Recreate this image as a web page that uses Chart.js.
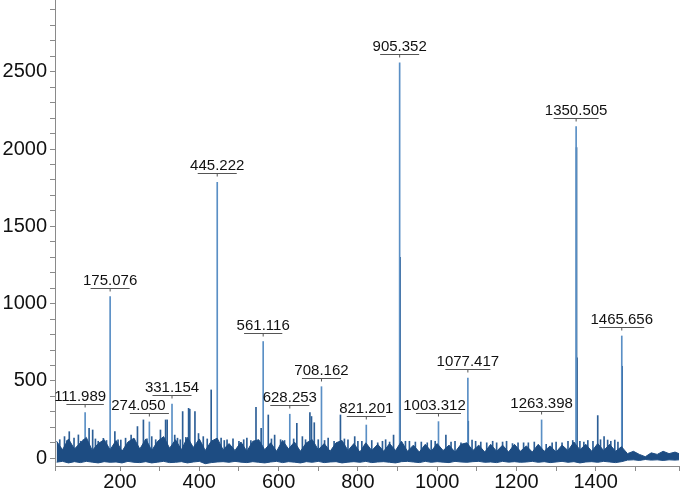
<!DOCTYPE html>
<html>
<head>
<meta charset="utf-8">
<script src="https://cdn.jsdelivr.net/npm/chart.js@4.4.1/dist/chart.umd.min.js"></script>
<style>
  html, body { margin: 0; padding: 0; background: #fff; }
</style>
</head>
<body>
<canvas id="myChart" width="680" height="491"></canvas>
<script>
// noise band of the spectrum: upper and lower edge, m/z every 15
var noiseMz = [40, 55, 70, 85, 100, 115, 130, 145, 160, 175,
    190, 205, 220, 235, 250, 265, 280, 295, 310, 325,
    340, 355, 370, 385, 400, 415, 430, 445, 460, 475,
    490, 505, 520, 535, 550, 565, 580, 595, 610, 625,
    640, 655, 670, 685, 700, 715, 730, 745, 760, 775,
    790, 805, 820, 835, 850, 865, 880, 895, 910, 925,
    940, 955, 970, 985, 1000, 1015, 1030, 1045, 1060, 1075,
    1090, 1105, 1120, 1135, 1150, 1165, 1180, 1195, 1210, 1225,
    1240, 1255, 1270, 1285, 1300, 1315, 1330, 1345, 1360, 1375,
    1390, 1405, 1420, 1435, 1450, 1465, 1480, 1495, 1510, 1525,
    1540, 1555, 1570, 1585, 1600, 1610]
var noiseTop = [110, 55, 125, 60, 100, 135, 50, 95, 120, 55,
    115, 45, 105, 130, 60, 125, 50, 110, 140, 65,
    120, 55, 135, 70, 125, 50, 110, 130, 55, 95,
    50, 105, 45, 110, 120, 55, 100, 45, 115, 60,
    105, 45, 100, 120, 55, 95, 45, 100, 115, 50,
    95, 40, 100, 50, 90, 45, 95, 50, 110, 45,
    85, 40, 90, 45, 95, 50, 85, 40, 90, 100,
    50, 85, 40, 90, 45, 85, 40, 90, 45, 80,
    40, 90, 45, 80, 40, 85, 50, 105, 55, 90,
    45, 95, 50, 90, 45, 75, 30, 45, 25, 10,
    35, 25, 45, 30, 40, 30]
var noiseBottom = [-25, -20, -30, -22, -28, -20, -25, -30, -22, -26,
    -24, -30, -20, -26, -28, -22, -30, -25, -20, -28,
    -26, -22, -30, -24, -20, -35, -28, -24, -22, -26,
    -20, -25, -28, -22, -26, -30, -24, -20, -28, -22,
    -25, -30, -22, -26, -20, -28, -24, -22, -30, -25,
    -22, -26, -20, -28, -24, -22, -26, -30, -22, -20,
    -24, -28, -20, -26, -22, -25, -28, -20, -24, -26,
    -22, -20, -26, -24, -28, -20, -25, -22, -26, -24,
    -20, -26, -22, -28, -24, -20, -26, -22, -30, -24,
    -22, -26, -20, -24, -28, -22, -12, -10, -14, -8,
    -12, -10, -14, -10, -12, -10]

// smaller unlabelled spikes
var spikeMz = [48, 60, 66, 72, 84, 95, 101, 108, 122, 131, 138, 145, 158, 166, 187, 195, 202, 214, 228, 236,
    244, 259, 268, 280, 290, 302, 308, 315, 319, 338, 345, 352, 358, 366, 373, 376, 389, 398, 410, 420,
    430, 455, 463, 470, 485, 500, 512, 520, 530, 543, 556, 574, 582, 590, 605, 615, 638, 646, 660, 668,
    679, 683, 690, 700, 716, 725, 740, 756, 766, 775, 792, 800, 810, 835, 850, 862, 870, 880, 890, 920,
    930, 945, 960, 975, 985, 995, 1022, 1035, 1045, 1060, 1088, 1097, 1110, 1125, 1140, 1150, 1165, 1175, 1190, 1204,
    1218, 1230, 1245, 1275, 1290, 1300, 1315, 1330, 1342, 1360, 1370, 1380, 1393, 1405, 1412, 1421, 1430, 1438, 1448, 1456]
var spikeHeight = [120, 140, 115, 172, 130, 151, 110, 120, 194, 183, 125, 110, 129, 115, 172, 120, 118, 130, 150, 125,
    205, 248, 125, 140, 120, 183, 130, 248, 248, 150, 130, 120, 302, 135, 323, 317, 302, 160, 140, 125,
    442, 130, 115, 120, 125, 110, 120, 130, 115, 330, 194, 280, 125, 150, 120, 115, 125, 226, 140, 120,
    295, 270, 230, 120, 115, 130, 110, 280, 125, 120, 140, 110, 110, 115, 100, 110, 120, 105, 150, 110,
    110, 105, 105, 100, 115, 110, 150, 105, 110, 100, 118, 110, 105, 100, 110, 100, 105, 110, 95, 100,
    100, 100, 105, 90, 100, 105, 100, 110, 115, 110, 105, 115, 110, 276, 120, 140, 118, 110, 118, 105]

// labelled peaks
var peakMz = [111.989, 175.076, 274.050, 331.154, 445.222, 561.116, 628.253, 708.162,
    821.201, 905.352, 1003.312, 1077.417, 1263.398, 1350.505, 1465.656]
var peakHeight = [295, 1045, 235, 350, 1785, 755, 285, 463,
    215, 2557, 237, 518, 248, 2145, 791]

// isotope peaks next to the big ones
var isoMz = [906.35, 1078.42, 1351.5, 1352.5, 1466.66]
var isoHeight = [1300, 240, 2010, 650, 595]

var xLabels = [200, 400, 600, 800, 1000, 1200, 1400]
var yLabels = [0, 500, 1000, 1500, 2000, 2500]

function pts(xs, ys) {
    return xs.map(function (x, i) { return { x: x, y: ys[i] } })
}

var peakLabels = {
    id: 'peakLabels',
    afterDatasetsDraw: function (chart, args, opts) {
        var ctx = chart.ctx
        var xs = chart.scales.x
        var ys = chart.scales.y
        ctx.save()
        ctx.font = '15px "Liberation Sans", Arial, sans-serif'
        ctx.textAlign = 'center'
        ctx.textBaseline = 'alphabetic'
        ctx.lineWidth = 1
        ctx.strokeStyle = '#555'
        ctx.fillStyle = '#111'
        for (var i = 0; i < peakMz.length; i++) {
            var text = peakMz[i].toFixed(3)
            var x = xs.getPixelForValue(peakMz[i])
            var barY = Math.round(ys.getPixelForValue(peakHeight[i]) - 9) + 0.5
            var w = ctx.measureText(text).width * 0.72
            ctx.beginPath()
            ctx.moveTo(x - w / 2, barY)
            ctx.lineTo(x + w / 2, barY)
            ctx.moveTo(x, barY)
            ctx.lineTo(x, barY + 3)
            ctx.stroke()
            ctx.fillText(text, x + (opts.shift[text] || 0), barY - 4)
        }
        ctx.restore()
    }
}

Chart.defaults.font.family = '"Liberation Sans", Arial, sans-serif'

var ctx = document.getElementById('myChart').getContext('2d')
var myChart = new Chart(ctx, {
    type: 'bar',
    data: {
        datasets: [{
                type: 'line',
                data: pts(noiseMz, noiseTop),
                borderColor: '#1d4c82',
                backgroundColor: '#1d4c82',
                borderWidth: 1,
                pointRadius: 0,
                fill: '+1',
                order: 0,
            },
            {
                type: 'line',
                data: pts(noiseMz, noiseBottom),
                borderColor: '#1d4c82',
                borderWidth: 1,
                pointRadius: 0,
                fill: false,
                order: 0,
            },
            {
                data: pts(spikeMz, spikeHeight),
                backgroundColor: '#2c5e96',
                barThickness: 1,
                grouped: false,
                order: 1,
            },
            {
                data: pts(peakMz, peakHeight),
                backgroundColor: '#5a8fc5',
                barThickness: 1,
                grouped: false,
                order: 1,
            },
            {
                data: pts(isoMz, isoHeight),
                backgroundColor: '#1f5088',
                barThickness: 1,
                grouped: false,
                order: 1,
            },
        ]
    },
    options: {
        responsive: false,
        animation: false,
        layout: { padding: { left: 0, right: 1, top: 0, bottom: 0 } },
        plugins: {
            legend: { display: false },
            tooltip: { enabled: false },
            peakLabels: { shift: { '111.989': -5, '274.050': -11, '1003.312': -4 } },
        },
        scales: {
            x: {
                type: 'linear',
                min: 36,
                max: 1610,
                offset: false,
                grid: { drawOnChartArea: false, offset: false, tickLength: 5, color: '#8a8a8a' },
                border: { color: '#8a8a8a' },
                ticks: {
                    stepSize: 100,
                    autoSkip: false,
                    maxRotation: 0,
                    padding: -1,
                    color: '#111',
                    font: { size: 20 },
                    callback: function (v) { return xLabels.indexOf(v) >= 0 ? String(v) : '' },
                },
                afterFit: function (s) { s.height = 25; s.paddingLeft = 0; s.paddingRight = 0 },
            },
            y: {
                min: -50,
                max: 2964,
                grid: { drawOnChartArea: false, tickLength: 5, color: '#8a8a8a' },
                border: { color: '#8a8a8a' },
                ticks: {
                    stepSize: 100,
                    includeBounds: false,
                    autoSkip: false,
                    padding: 3,
                    color: '#111',
                    font: { size: 20 },
                    callback: function (v) { return yLabels.indexOf(v) >= 0 ? String(v) : '' },
                },
                afterFit: function (s) { s.width = 55; s.paddingTop = 0; s.paddingBottom = 0 },
            },
        },
    },
    plugins: [peakLabels],
})
</script>
</body>
</html>
